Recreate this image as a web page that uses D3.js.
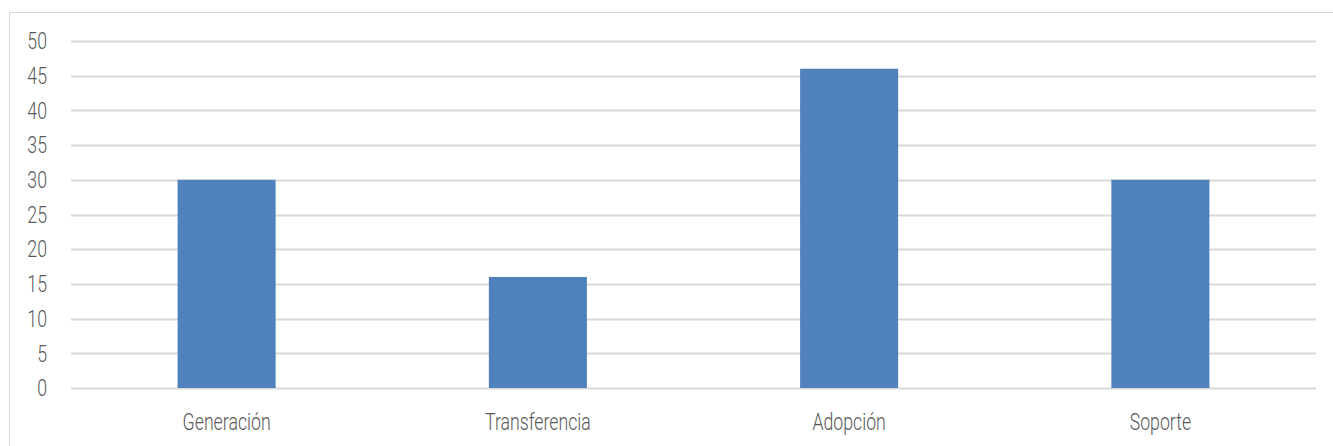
<!DOCTYPE html>
<html>
<head>
<meta charset="utf-8">
<script src="https://cdn.jsdelivr.net/npm/d3@7"></script>
<style>
  body { margin: 0; background: #fff; }
  svg text { font-family: "Roboto", "DejaVu Sans Condensed", sans-serif; font-weight: 300; fill: #595959; }
</style>
</head>
<body>
<div id="chart"></div>
<script>
const categories = ["Generación", "Transferencia", "Adopción", "Soporte"];
const values = [30, 16, 46, 30];
const yTicks = [0, 5, 10, 15, 20, 25, 30, 35, 40, 45, 50];

const width = 1333;
const height = 446;
const margin = { top: 41, right: 17, bottom: 58, left: 71 };
const fontSize = 23;
const squeeze = 0.77; // the original font is a condensed face

const svg = d3.select("#chart")
  .append("svg")
  .attr("width", width)
  .attr("height", height);

// chart border (left and top edges visible, rest runs off the picture)
svg.append("rect")
  .attr("x", 9.5)
  .attr("y", 12.5)
  .attr("width", width + 20)
  .attr("height", height + 20)
  .attr("fill", "none")
  .attr("stroke", "#d9d9d9");

const x = d3.scaleBand()
  .domain(categories)
  .range([margin.left, width - margin.right])
  .paddingInner(0.685)
  .paddingOuter(0.3425);

const y = d3.scaleLinear()
  .domain([0, 50])
  .range([height - margin.bottom, margin.top]);

// gridlines
svg.append("g")
  .selectAll("line")
  .data(yTicks)
  .join("line")
  .attr("x1", margin.left)
  .attr("x2", width - margin.right)
  .attr("y1", (d) => Math.round(y(d)) + 0.5)
  .attr("y2", (d) => Math.round(y(d)) + 0.5)
  .attr("stroke", "#d9d9d9")
  .attr("stroke-width", 2);

// y tick labels
svg.append("g")
  .selectAll("text")
  .data(yTicks)
  .join("text")
  .attr("transform", (d) => `translate(47,${y(d)}) scale(${squeeze},1)`)
  .attr("dy", "0.36em")
  .attr("text-anchor", "end")
  .attr("font-size", fontSize)
  .text((d) => d);

// bars
svg.append("g")
  .selectAll("rect")
  .data(values)
  .join("rect")
  .attr("x", (d, i) => x(categories[i]))
  .attr("y", (d) => y(d))
  .attr("width", x.bandwidth())
  .attr("height", (d) => y(0) - y(d))
  .attr("fill", "#4f81bd");

// category labels
svg.append("g")
  .selectAll("text")
  .data(categories)
  .join("text")
  .attr("transform", (d) => `translate(${x(d) + x.bandwidth() / 2},430) scale(${squeeze},1)`)
  .attr("text-anchor", "middle")
  .attr("font-size", fontSize)
  .text((d) => d);
</script>
</body>
</html>
